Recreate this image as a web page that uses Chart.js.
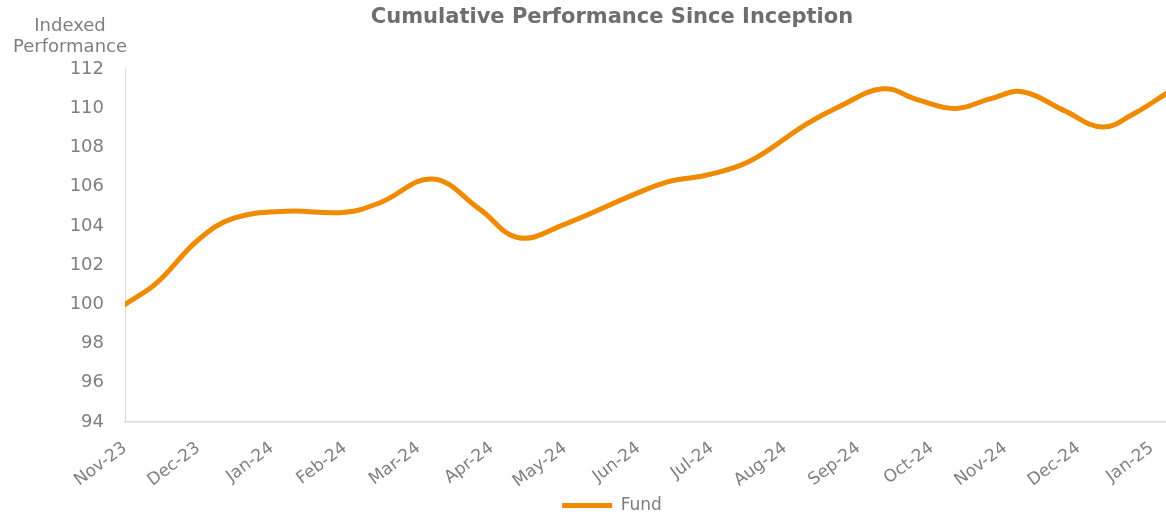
<!DOCTYPE html>
<html>
<head>
<meta charset="utf-8">
<title>Cumulative Performance Since Inception</title>
<script src="https://cdn.jsdelivr.net/npm/chart.js@4.4.1/dist/chart.umd.min.js"></script>
<style>
  html, body { margin: 0; padding: 0; background: #ffffff; }
  #wrap { width: 1166px; height: 516px; position: relative; }
</style>
</head>
<body>
<div id="wrap"><canvas id="chart"></canvas></div>
<script>
// month tick labels, first one = Nov 2023
const monthLabels = ["Nov-23", "Dec-23", "Jan-24", "Feb-24", "Mar-24", "Apr-24", "May-24", "Jun-24",
  "Jul-24", "Aug-24", "Sep-24", "Oct-24", "Nov-24", "Dec-24", "Jan-25"];

const obsDates = ["2023-11-01", "2023-11-14", "2023-12-01", "2023-12-16", "2024-01-07", "2024-02-01",
  "2024-02-15", "2024-03-07", "2024-03-27", "2024-04-12", "2024-05-01", "2024-05-30", "2024-06-13",
  "2024-06-29", "2024-07-17", "2024-08-10", "2024-08-24", "2024-09-11", "2024-09-25", "2024-10-11",
  "2024-10-26", "2024-11-08", "2024-11-25", "2024-12-11", "2024-12-24", "2025-01-07"];
const fundValues = [100.0, 101.1, 103.3, 104.4, 104.75, 104.7,
  105.2, 106.4, 104.85, 103.4, 104.1, 105.6, 106.25,
  106.6, 107.3, 109.2, 110.1, 111.0, 110.45, 110.0,
  110.5, 110.85, 109.9, 109.05, 109.7, 110.75];

const yTicks = [94, 96, 98, 100, 102, 104, 106, 108, 110, 112];

// months since Nov 2023 (tick = first of month)
function monthPos(d) {
  const [y, m, day] = d.split("-").map(Number);
  const dim = new Date(y, m, 0).getDate();
  return (y - 2023) * 12 + (m - 11) + (day - 1) / dim;
}

const points = obsDates.map((d, i) => ({ x: monthPos(d), y: fundValues[i] }));

const grey = "#7f7f7f";
const orange = "#f08a00";

const yAxisTitle = {
  id: "yAxisTitle",
  afterDraw(chart) {
    const ctx = chart.ctx;
    ctx.save();
    ctx.fillStyle = grey;
    ctx.font = "18px 'DejaVu Sans'";
    ctx.textAlign = "center";
    ctx.textBaseline = "alphabetic";
    ctx.fillText("Indexed", 70, 31);
    ctx.fillText("Performance", 70, 52);
    ctx.restore();
  }
};

const ctx = document.getElementById("chart").getContext("2d");
const myChart = new Chart(ctx, {
  type: "line",
  data: {
    datasets: [{
      label: "Fund",
      data: points,
      borderColor: orange,
      backgroundColor: orange,
      borderWidth: 5,
      borderCapStyle: "round",
      borderJoinStyle: "round",
      pointRadius: 0,
      tension: 0.4,
      fill: false
    }]
  },
  options: {
    responsive: true,
    maintainAspectRatio: false,
    animation: false,
    layout: { padding: { left: 58, right: 0, top: 0, bottom: -8 } },
    plugins: {
      title: {
        display: true,
        text: "Cumulative Performance Since Inception",
        color: "#6e6e6e",
        font: { family: "'DejaVu Sans'", size: 21, weight: "bold" },
        padding: { top: 5, bottom: 39 }
      },
      legend: {
        position: "bottom",
        labels: {
          color: grey,
          font: { family: "'DejaVu Sans'", size: 17 },
          usePointStyle: true,
          pointStyle: "line",
          pointStyleWidth: 50,
          padding: 6
        }
      },
      tooltip: { enabled: false }
    },
    scales: {
      x: {
        type: "linear",
        min: 0,
        max: points[points.length - 1].x,
        grid: { display: false, drawTicks: false },
        border: { display: true, color: "#d9d9d9", width: 1.5 },
        afterBuildTicks: (scale) => {
          scale.ticks = monthLabels.map((_, i) => ({ value: i }));
        },
        afterFit: (scale) => {
          scale.height = 69;
          scale.paddingRight = 0;
        },
        ticks: {
          autoSkip: false,
          maxRotation: 37,
          minRotation: 37,
          padding: 16,
          color: grey,
          font: { family: "'DejaVu Sans'", size: 17 },
          callback: (value) => monthLabels[value]
        }
      },
      y: {
        min: 94,
        max: 112,
        grid: { display: false, drawTicks: false },
        border: { display: true, color: "#d9d9d9", width: 1 },
        afterBuildTicks: (scale) => {
          scale.ticks = yTicks.map((v) => ({ value: v }));
        },
        afterFit: (scale) => { scale.width = 67; },
        ticks: {
          padding: 21,
          color: grey,
          font: { family: "'DejaVu Sans'", size: 18 }
        }
      }
    }
  },
  plugins: [yAxisTitle]
});
</script>
</body>
</html>
